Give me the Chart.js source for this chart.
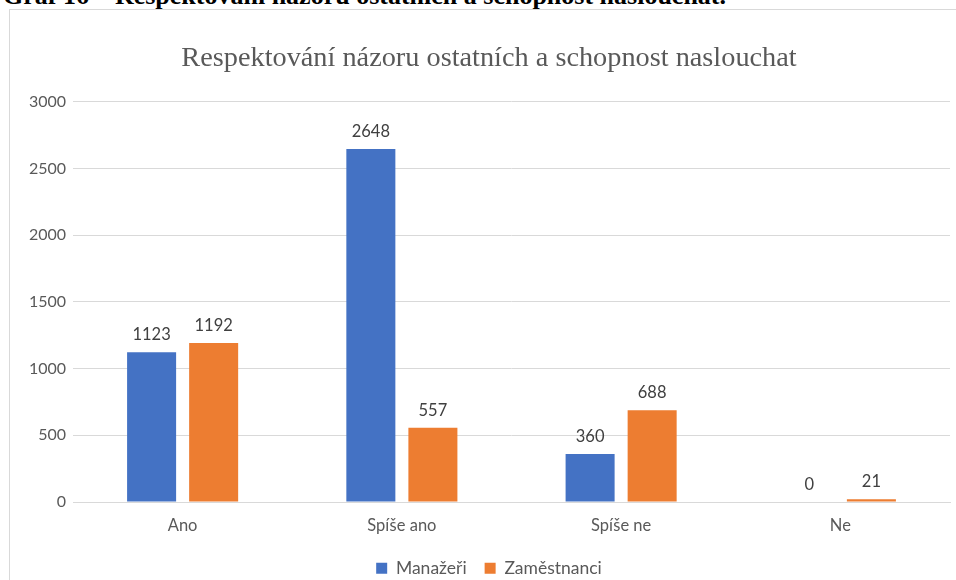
<!DOCTYPE html>
<html>
<head>
<meta charset="utf-8">
<script src="https://cdn.jsdelivr.net/npm/chart.js@4.4.1/dist/chart.umd.min.js"></script>
<style>
body{margin:0;background:#fff;overflow:hidden;width:956px;height:580px;position:relative;}
#heading{position:absolute;left:3px;top:-17px;font-family:"Liberation Serif","Times New Roman",serif;font-weight:bold;font-size:26px;line-height:26px;white-space:nowrap;color:#000;}
#box{position:absolute;left:9px;top:9px;width:960px;height:590px;border-left:1px solid #d9d9d9;border-top:1px solid #d9d9d9;}
#wrap{position:absolute;left:0;top:0;width:958px;height:577px;}
</style>
</head>
<body>
<div id="heading">Graf 16 – Respektování názoru ostatních a schopnost naslouchat.</div>
<div id="box"><div id="wrap"><canvas id="chart"></canvas></div></div>
<script>
let categories = ["Ano","Spíše ano","Spíše ne","Ne"];
let manazeri = [1123,2648,360,0];
let zamestnanci = [1192,557,688,21];
let seriesNames = ["Manažeři","Zaměstnanci"];

let labelFont = "Lato, 'Open Sans', sans-serif";

// values above bars
let valueLabels = {
id:"valueLabels",
afterDatasetsDraw(chart){
let ctx = chart.ctx;
ctx.save();
ctx.font = "16.5px " + labelFont;
ctx.fillStyle = "#404040";
ctx.textAlign = "center";
ctx.textBaseline = "bottom";
chart.data.datasets.forEach((ds,i)=>{
chart.getDatasetMeta(i).data.forEach((bar,j)=>{
ctx.fillText(ds.data[j], bar.x, bar.y - 9);
});
});
ctx.restore();
}
};

let ctx = document.getElementById("chart").getContext("2d");

new Chart(ctx,{
type:"bar",
data:{
labels:categories,
datasets:[{
label:seriesNames[0],
data:manazeri,
backgroundColor:"#4472C4",
categoryPercentage:0.566,
barPercentage:0.79
},{
label:seriesNames[1],
data:zamestnanci,
backgroundColor:"#ED7D31",
categoryPercentage:0.566,
barPercentage:0.79
}]
},
options:{
responsive:true,
maintainAspectRatio:false,
animation:false,
layout:{padding:{left:18,right:18,top:0,bottom:0}},
plugins:{
title:{
display:true,
text:"Respektování názoru ostatních a schopnost naslouchat",
color:"#595959",
font:{family:"'Liberation Serif', 'Times New Roman', serif",size:28.3,weight:"normal"},
padding:{top:32,bottom:26}
},
legend:{
position:"bottom",
labels:{
color:"#595959",
font:{family:labelFont,size:17.5},
boxWidth:11,
boxHeight:11,
padding:18
}
},
tooltip:{enabled:false}
},
scales:{
x:{
afterFit(scale){ scale.height = 39.5; },
grid:{display:false},
border:{color:"#d9d9d9"},
ticks:{color:"#595959",font:{family:labelFont,size:16.5},padding:6}
},
y:{
min:0,
max:3000,
afterFit(scale){ scale.width = 45; },
grid:{color:"#d9d9d9",drawTicks:false},
border:{display:false},
ticks:{stepSize:500,color:"#595959",font:{family:labelFont,size:16},padding:7,
callback:(v)=>String(v)}
}
}
},
plugins:[valueLabels]
});
</script>
</body>
</html>
